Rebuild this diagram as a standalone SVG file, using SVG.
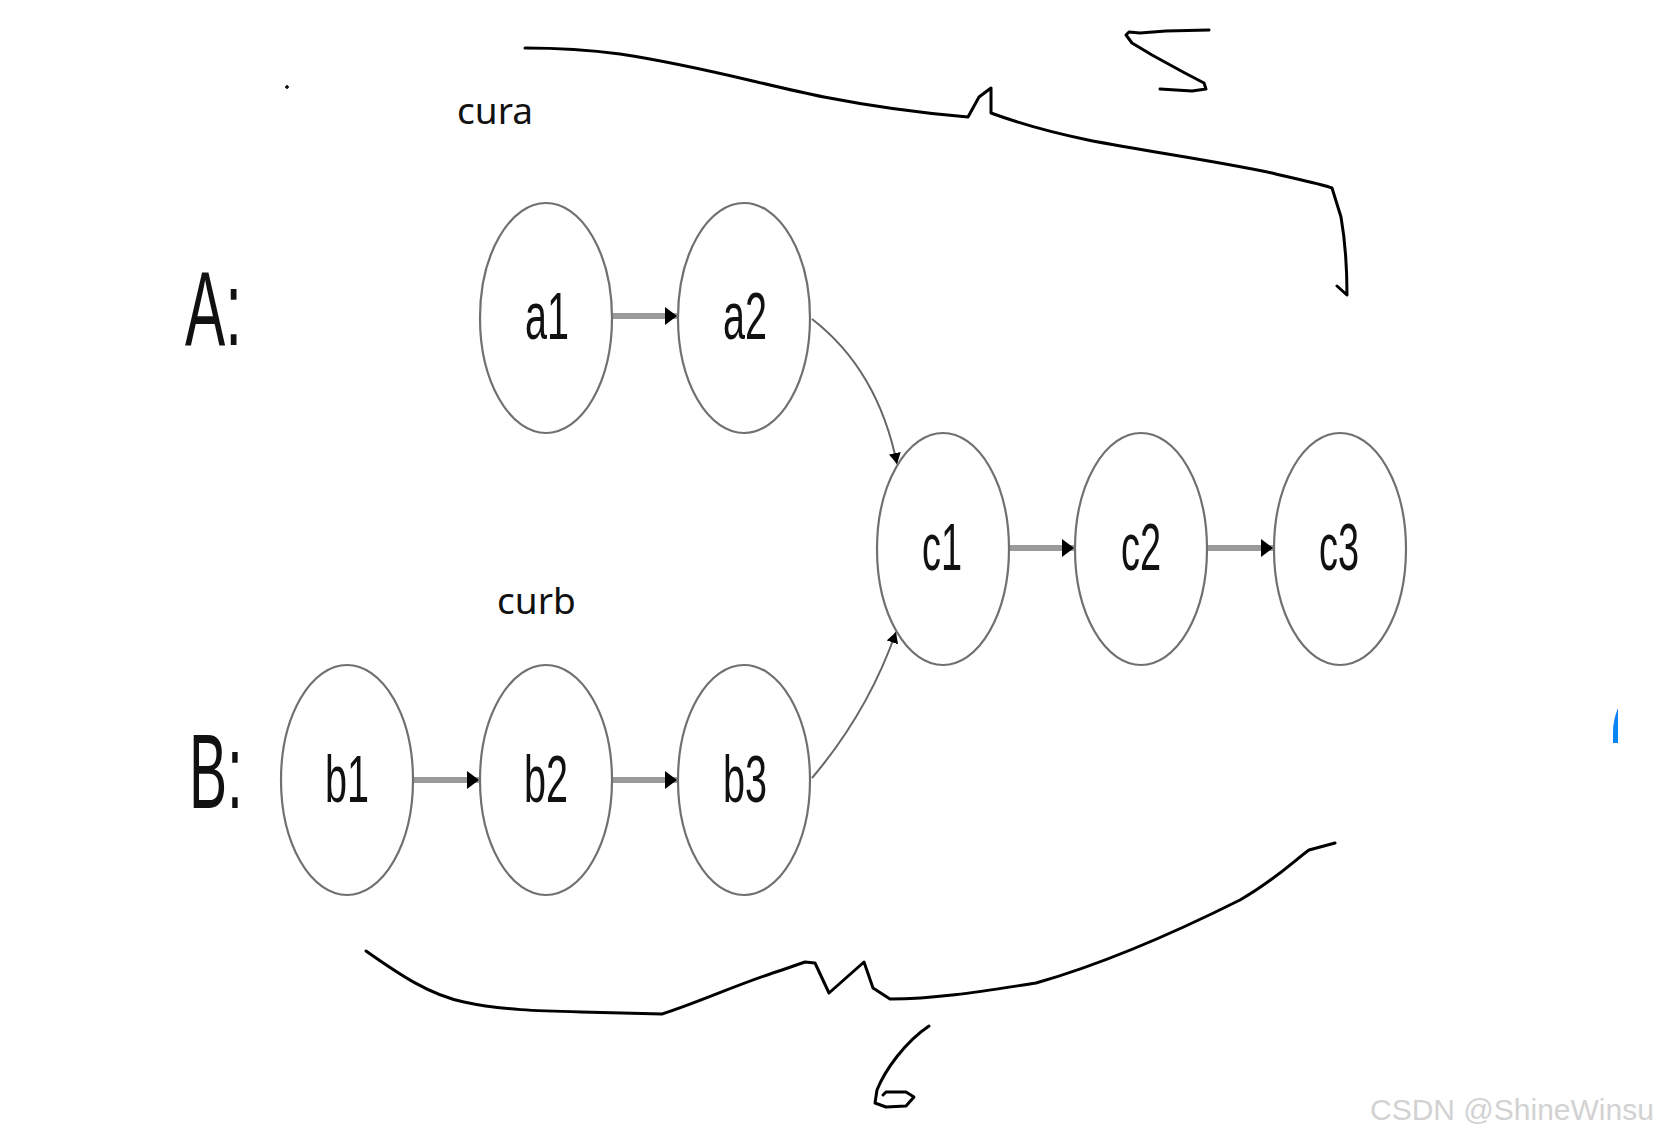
<svg xmlns="http://www.w3.org/2000/svg" width="1662" height="1140" viewBox="0 0 1662 1140">
<style>
.node ellipse{fill:#fff;stroke:#707070;stroke-width:2.2}
.lbl{font-family:"Liberation Sans",Arial,sans-serif;font-size:66px;fill:#111;text-anchor:middle}
.big{font-family:"Liberation Sans",Arial,sans-serif;font-size:106px;fill:#111}
.ptr{font-family:"Noto Sans","Open Sans",sans-serif;font-size:37px;fill:#111}
.thick{stroke:#9a9a9a;stroke-width:6;fill:none}
.thin{stroke:#666;stroke-width:2;fill:none}
.hand{stroke:#000;stroke-width:3;fill:none;stroke-linecap:round;stroke-linejoin:round}
.wm{font-family:"Liberation Sans",Arial,sans-serif;font-size:30px;fill:#d2d2d2}
</style>
<defs>
<marker id="ah" markerUnits="userSpaceOnUse" markerWidth="13" markerHeight="18" refX="12" refY="9" orient="auto">
<path d="M0,0 L12,9 L0,18 z" fill="#000"/>
</marker>
<marker id="ahs" markerUnits="userSpaceOnUse" markerWidth="12" markerHeight="12" refX="11" refY="6" orient="auto">
<path d="M0,0 L11,6 L0,12 z" fill="#000"/>
</marker>
</defs>
<rect width="1662" height="1140" fill="#fff"/>

<text class="big" x="185" y="345" textLength="57" lengthAdjust="spacingAndGlyphs">A:</text>
<text class="big" x="189" y="808" textLength="54" lengthAdjust="spacingAndGlyphs">B:</text>
<text class="ptr" x="457" y="124">cura</text>
<text class="ptr" x="497" y="614">curb</text>

<g id="connectors">
<path class="thick" d="M612,316 L677,316" marker-end="url(#ah)"/>
<path class="thick" d="M413,780 L479,780" marker-end="url(#ah)"/>
<path class="thick" d="M612,780 L677,780" marker-end="url(#ah)"/>
<path class="thick" d="M1009,548 L1074,548" marker-end="url(#ah)"/>
<path class="thick" d="M1207,548 L1273,548" marker-end="url(#ah)"/>
<path class="thin" d="M812,319 Q878,370 897,464" marker-end="url(#ahs)"/>
<path class="thin" d="M812,778 Q868,712 896,632" marker-end="url(#ahs)"/>
</g>

<g id="a1" class="node"><ellipse cx="546" cy="318" rx="66" ry="115"/><text class="lbl" x="547" y="339" textLength="44" lengthAdjust="spacingAndGlyphs">a1</text></g>
<g id="a2" class="node"><ellipse cx="744" cy="318" rx="66" ry="115"/><text class="lbl" x="745" y="339" textLength="44" lengthAdjust="spacingAndGlyphs">a2</text></g>
<g id="c1" class="node"><ellipse cx="943" cy="549" rx="66" ry="116"/><text class="lbl" x="942" y="570" textLength="40" lengthAdjust="spacingAndGlyphs">c1</text></g>
<g id="c2" class="node"><ellipse cx="1141" cy="549" rx="66" ry="116"/><text class="lbl" x="1141" y="570" textLength="40" lengthAdjust="spacingAndGlyphs">c2</text></g>
<g id="c3" class="node"><ellipse cx="1340" cy="549" rx="66" ry="116"/><text class="lbl" x="1339" y="570" textLength="40" lengthAdjust="spacingAndGlyphs">c3</text></g>
<g id="b1" class="node"><ellipse cx="347" cy="780" rx="66" ry="115"/><text class="lbl" x="347" y="802" textLength="44" lengthAdjust="spacingAndGlyphs">b1</text></g>
<g id="b2" class="node"><ellipse cx="546" cy="780" rx="66" ry="115"/><text class="lbl" x="546" y="802" textLength="44" lengthAdjust="spacingAndGlyphs">b2</text></g>
<g id="b3" class="node"><ellipse cx="744" cy="780" rx="66" ry="115"/><text class="lbl" x="745" y="802" textLength="44" lengthAdjust="spacingAndGlyphs">b3</text></g>

<g id="handwriting">
<path class="hand" d="M525,48 C560,48 590,50 620,54 C700,66 760,84 824,97 C870,106 920,113 968,117 L979,97 L991,88 L991,113 C1010,120 1040,130 1088,140 C1150,152 1210,160 1272,173 C1300,180 1322,184 1332,188 L1341,217 C1345,240 1347,270 1347,295 L1337,286"/>
<path class="hand" d="M1209,30 L1166,31 L1140,33 L1129,32 L1126,35 L1132,43 L1152,55 L1183,72 L1204,83 L1206,89 L1192,91 L1160,89"/>
<path class="hand" d="M366,951 C400,975 430,995 464,1002 C500,1010 540,1011 581,1012 L662,1014 C700,1002 740,983 782,970 L805,962 L815,963 L829,993 L864,962 L873,988 L890,999 C940,999 990,990 1036,983 C1110,962 1180,930 1240,900 C1275,880 1295,860 1309,850 L1335,843"/>
<path class="hand" d="M929,1026 C905,1042 885,1070 877,1090 L875,1103 L886,1107 L906,1106 L914,1097 L906,1092 L886,1092 L883,1095"/>
<path d="M285,87 h4 M287,85 v4" stroke="#000" stroke-width="1.5"/>
</g>

<path d="M1618,708 Q1613,720 1613,732 L1613,743 L1618,743 z" fill="#0b84f5"/>
<text class="wm" x="1370" y="1120">CSDN @ShineWinsu</text>
</svg>
